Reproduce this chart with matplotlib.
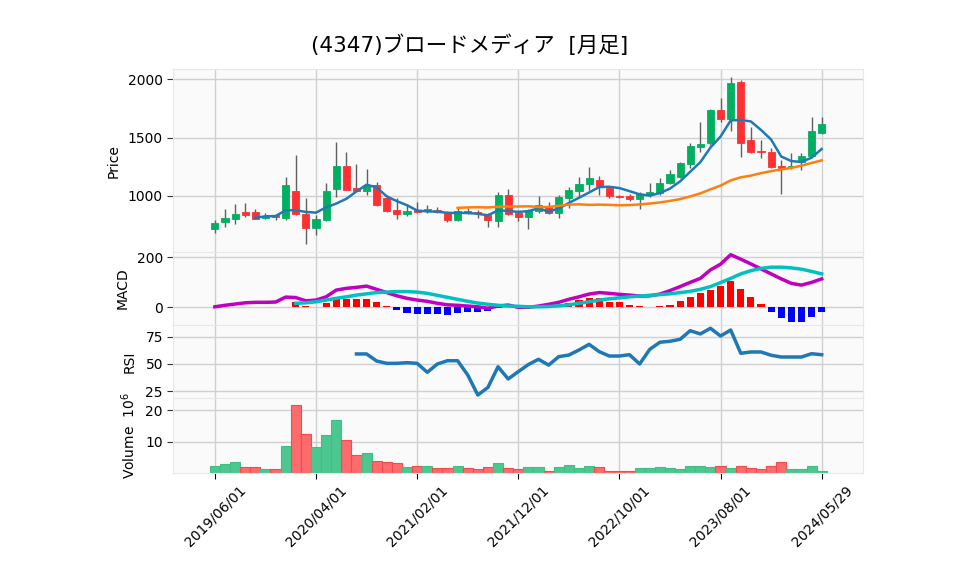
import matplotlib
matplotlib.use("Agg")
import matplotlib.pyplot as plt
import numpy as np
import pandas as pd

plt.rcParams['font.family'] = ['DejaVu Sans', 'Noto Sans CJK JP']

title = "(4347)ブロードメディア  [月足]"

opens = [720, 780, 806, 863, 860, 809, 835, 812, 1043, 846,
         729, 795, 1057, 1257, 1071, 1045, 1094, 985, 880, 848,
         877, 869, 878, 857, 795, 874, 866, 837, 789, 1009,
         857, 818, 869, 917, 852, 980, 1045, 1100, 1137, 1071,
         1000, 1000, 977, 1009, 1023, 1109, 1165, 1274, 1422, 1451,
         1736, 1659, 1976, 1479, 1388, 1379, 1257, 1245, 1294, 1342,
         1542]
highs = [795, 886, 932, 943, 886, 852, 846, 1160, 1351, 985,
         837, 1109, 1460, 1374, 1271, 1229, 1122, 1009, 980, 929,
         949, 920, 909, 874, 895, 900, 880, 857, 1037, 1057,
         870, 890, 1003, 946, 1009, 1074, 1165, 1246, 1171, 1080,
         1010, 1017, 1030, 1109, 1157, 1223, 1294, 1451, 1631, 1742,
         1836, 2021, 1993, 1593, 1479, 1408, 1308, 1365, 1365, 1674,
         1674]
lows = [681, 732, 758, 823, 800, 803, 795, 795, 835, 589,
        666, 789, 994, 1051, 1045, 1009, 917, 863, 800, 829,
        857, 852, 855, 780, 789, 846, 809, 732, 732, 840,
        786, 715, 857, 850, 809, 895, 994, 1051, 1009, 980,
        985, 957, 889, 989, 1010, 1100, 1150, 1237, 1374, 1440,
        1631, 1559, 1331, 1365, 1322, 1240, 1014, 1230, 1223, 1330,
        1530]
closes = [766, 809, 846, 840, 806, 829, 818, 1094, 846, 729,
          800, 1043, 1257, 1051, 1045, 1088, 923, 874, 848, 872,
          860, 886, 863, 795, 872, 857, 852, 795, 1009, 846,
          818, 880, 923, 857, 989, 1051, 1103, 1151, 1088, 1003,
          994, 972, 1014, 1037, 1109, 1186, 1280, 1428, 1445, 1736,
          1659, 1967, 1451, 1379, 1374, 1246, 1240, 1257, 1342, 1556,
          1616]
# volume in millions
volume = [2.0, 2.9, 3.6, 1.9, 1.9, 1.3, 1.3, 8.5, 21.6, 12.3,
          8.2, 12.0, 16.9, 10.4, 5.8, 6.4, 3.9, 3.6, 3.2, 1.7,
          2.3, 2.3, 1.6, 1.6, 2.0, 1.6, 1.3, 1.9, 3.2, 1.6,
          1.3, 1.9, 1.9, 0.6, 1.7, 2.4, 1.4, 2.0, 1.7, 0.6,
          0.5, 0.5, 1.4, 1.4, 1.7, 1.4, 1.1, 2.0, 2.0, 1.7,
          2.0, 1.4, 2.3, 1.4, 1.1, 2.3, 3.5, 1.1, 1.1, 2.0,
          0.4]
macd = [1, 7, 12, 17, 19, 19, 20, 40, 38, 25,
        28, 41, 68, 75, 79, 84, 71, 58, 45, 35,
        28, 23, 15, 9, 7, 4, 1, -5, 4, 8,
        -1, -1, 4, 11, 19, 31, 41, 52, 58, 55,
        51, 48, 44, 45, 52, 66, 82, 99, 115, 149,
        172, 210, 192, 173, 153, 133, 113, 95, 88, 99,
        113]
signal = [np.nan] * 8 + [15, 17,
          21, 28, 35, 41, 48, 53, 58, 60, 62, 62,
          60, 55, 47, 39, 31, 23, 16, 11, 7, 4,
          3, 1, 1, 2, 5, 9, 15, 21, 28, 33,
          37, 41, 44, 47, 50, 53, 58, 63, 71, 82,
          98, 115, 133, 146, 155, 160, 160, 157, 152, 143,
          133]
hist = [np.nan] * 8 + [19, 5,
        0, 15, 31, 32, 32, 32, 20, 4, -12, -23,
        -27, -28, -28, -31, -23, -19, -19, -15, -3, 2,
        -4, -2, 2, 5, 10, 18, 28, 37, 37, 21,
        21, 8, 4, 0, 4, 8, 24, 41, 55, 68,
        84, 104, 72, 41, 12, -19, -43, -59, -59, -39,
        -19]
rsi = [np.nan] * 14 + [59.2, 59.2, 52.7, 50.6, 50.6, 51.2,
       50.6, 42.4, 50, 53, 53, 40, 21.6, 28.6, 47.5, 36.3,
       43, 49.5, 54.3, 49, 56.7, 58.2, 62.8, 68, 61.3, 57.3,
       57.3, 58.5, 50, 63.4, 69.9, 70.8, 72.6, 80.5, 77.5, 82.7,
       75.6, 81.1, 59.8, 61, 61, 58, 56.4, 56.4, 56.4, 59.4,
       58.5]
tick_labels = ['2019/06/01', '2020/04/01', '2021/02/01', '2021/12/01',
               '2022/10/01', '2023/08/01', '2024/05/29']

up_c, dn_c = '#00b060', '#fe3032'
vup_c, vdn_c = '#4dc790', '#fd6b6c'
grid_c = '#d0d0d0'

x = np.arange(len(closes))
o = np.array(opens); c = np.array(closes)
is_up = c >= o
cols = np.where(is_up, up_c, dn_c)

fig = plt.figure(figsize=(9.58, 5.75), dpi=100)
L, W = 0.181, 0.720
ax1 = fig.add_axes([L, 0.5617, W, 0.3177])
ax2 = fig.add_axes([L, 0.4348, W, 0.1270], sharex=ax1)
ax3 = fig.add_axes([L, 0.3073, W, 0.1275], sharex=ax1)
ax4 = fig.add_axes([L, 0.1779, W, 0.1294], sharex=ax1)

for ax in (ax1, ax2, ax3, ax4):
    ax.set_facecolor('#fafafa')
    ax.grid(True, color=grid_c, linewidth=1.0)
    ax.set_axisbelow(True)
    for s in ax.spines.values():
        s.set_color('#e8e8e8')
    ax.tick_params(axis='y', labelsize=10, length=4, color='#333333')
    ax.tick_params(axis='x', length=4)

# price panel
ax1.vlines(x, lows, highs, color='#606060', linewidth=1.0, zorder=2)
ax1.bar(x, np.abs(c - o), bottom=np.minimum(o, c), width=0.7,
        color=cols, edgecolor=cols, linewidth=0.6, zorder=3)
ma5 = pd.Series(closes).rolling(5).mean()
ma25 = pd.Series(closes).rolling(25).mean()
ax1.plot(x, ma5, color='#2079b4', linewidth=1.8, zorder=4)
ax1.plot(x, ma25, color='#ff7f0e', linewidth=1.8, zorder=4)
ax1.set_ylim(520, 2085)
ax1.set_yticks([1000, 1500, 2000])
ax1.set_ylabel('Price', fontsize=10)

# MACD panel
h = np.array(hist, dtype=float)
ax2.bar(x, h, width=0.7, color=np.where(h >= 0, 'red', 'blue'), zorder=2)
ax2.plot(x, macd, color='#c000c0', linewidth=2.5, zorder=3)
ax2.plot(x, signal, color='#00c0c0', linewidth=2.5, zorder=3)
ax2.set_ylim(-72, 221)
ax2.set_yticks([0, 200])
ax2.set_ylabel('MACD', fontsize=10)

# RSI panel
ax3.plot(x, rsi, color='#1f77b4', linewidth=2.5)
ax3.set_ylim(18.6, 85.7)
ax3.set_yticks([25, 50, 75])
ax3.set_ylabel('RSI', fontsize=10)

# volume panel
ax4.bar(x, volume, width=1.0, color=np.where(is_up, vup_c, vdn_c),
        edgecolor=np.where(is_up, '#3fbf85', '#f5494b'), linewidth=0.8, zorder=2)
ax4.set_ylim(0, 23.9)
ax4.set_yticks([10, 20])
ax4.set_ylabel('Volume  $10^{6}$', fontsize=10)

for ax in (ax1, ax2, ax3):
    ax.tick_params(axis='x', labelbottom=False, length=0)

ax1.set_xlim(-4.1, 64.1)
ax4.set_xticks(np.arange(0, len(closes), 10))
ax4.set_xticklabels(tick_labels, rotation=45, fontsize=10)

for ax, xl in ((ax1, -0.076), (ax2, -0.064), (ax3, -0.053), (ax4, -0.052)):
    ax.yaxis.set_label_coords(xl, 0.5)

fig.suptitle(title, x=0.49, y=0.922, fontsize=15.5, va='center')

fig.savefig('out.png', dpi=100)
